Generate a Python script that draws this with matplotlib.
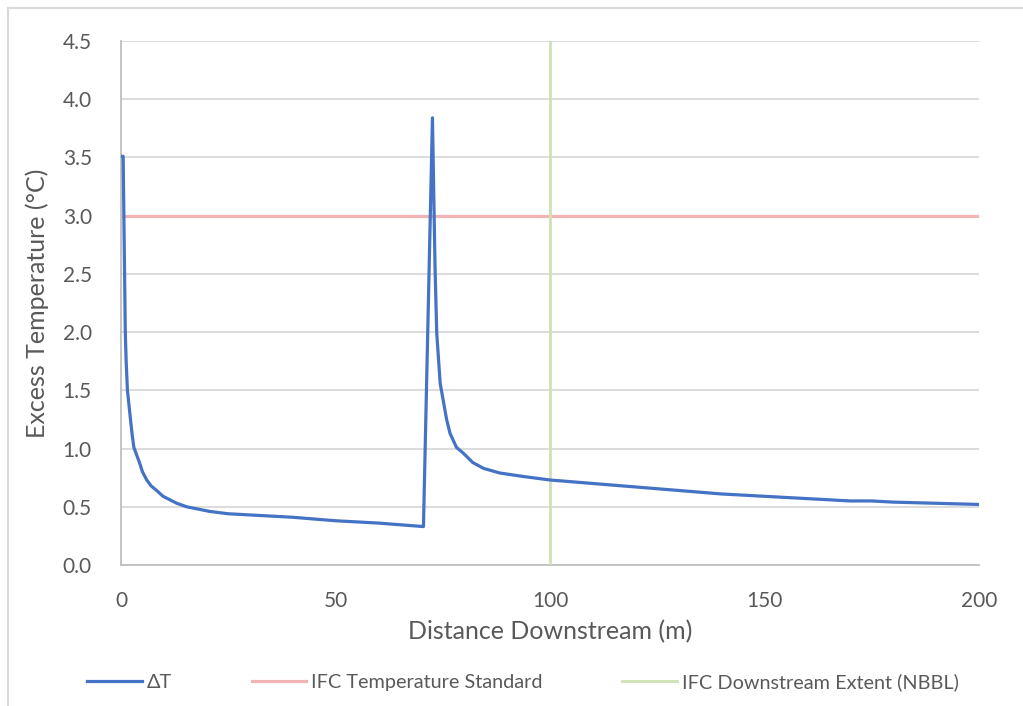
import matplotlib
matplotlib.use("Agg")
import matplotlib.pyplot as plt
from matplotlib.lines import Line2D

plt.rcParams['font.family'] = ['Lato', 'DejaVu Sans']

# data
dist = [0, 0.5, 1.0, 1.2, 1.5, 2.3, 2.6, 3.0, 3.6, 4.3, 5.0, 6.0, 7.0, 8.3, 9.8, 11.4, 13, 15.3,
        18, 20.7, 25, 30, 40, 50, 60, 70.5,
        72.6, 73.2, 73.6, 74.4, 75.9, 76.7, 78.2, 79.8, 82, 84.5, 88.3, 93.8, 100,
        110, 120, 130, 140, 150, 160, 170, 175, 180, 190, 200]
dT = [3.51, 3.51, 2.0, 1.75, 1.5, 1.22, 1.12, 1.01, 0.95, 0.88, 0.80, 0.73, 0.68, 0.64, 0.59, 0.56, 0.53, 0.50,
      0.48, 0.46, 0.44, 0.43, 0.41, 0.38, 0.36, 0.33,
      3.84, 2.56, 1.99, 1.56, 1.25, 1.13, 1.01, 0.96, 0.88, 0.83, 0.79, 0.76, 0.73,
      0.70, 0.67, 0.64, 0.61, 0.59, 0.57, 0.55, 0.55, 0.54, 0.53, 0.52]
std_x = [0, 200]
std_y = [3.0, 3.0]
ext_x = [100, 100]
ext_y = [0, 4.5]

labels = ["\u0394T", "IFC Temperature Standard", "IFC Downstream Extent (NBBL)"]
tick_color = "#595959"
grid_color = "#d9d9d9"

fig = plt.figure(figsize=(10.23, 7.06), dpi=100)
ax = fig.add_axes([121 / 1023, 141 / 706, 858 / 1023, 524 / 706])

ax.plot(dist, dT, color="#4472c4", lw=2.3, label=labels[0], zorder=4)
ax.plot(std_x, std_y, color="#f2b4b4", lw=2.3, label=labels[1], zorder=3)
ax.plot(ext_x, ext_y, color="#cfe2b4", lw=2.0, label=labels[2], zorder=3)

ax.set_xlim(0, 200)
ax.set_ylim(0, 4.5)
ax.set_xticks([0, 50, 100, 150, 200])
ax.set_yticks([i * 0.5 for i in range(10)])
ax.set_yticklabels([f"{i * 0.5:.1f}" for i in range(10)])
ax.tick_params(length=0, labelsize=15, colors=tick_color, pad=21)
ax.tick_params(axis="x", pad=19)
ax.grid(axis="y", color=grid_color, lw=1.3)
ax.set_axisbelow(True)
for s in ["top", "right"]:
    ax.spines[s].set_visible(False)
for s in ["left", "bottom"]:
    ax.spines[s].set_color("#bfbfbf")
    ax.spines[s].set_linewidth(1.3)

ax.set_xlabel("Distance Downstream (m)", fontsize=18, color=tick_color, labelpad=6)
ax.set_ylabel("Excess Temperature (\u00b0C)", fontsize=18, color=tick_color, labelpad=10)

leg = fig.legend(loc="center", bbox_to_anchor=(523 / 1023, 1 - 682 / 706), ncol=3, frameon=False,
                 fontsize=14.3, handlelength=2.75, handletextpad=0.25, columnspacing=4.0)
for t in leg.get_texts():
    t.set_color(tick_color)

# outer chart border (top and left edges visible)
fig.add_artist(Line2D([8 / 1023, 1], [1 - 8 / 706, 1 - 8 / 706], color=grid_color, lw=1.5))
fig.add_artist(Line2D([8 / 1023, 8 / 1023], [0, 1 - 8 / 706], color=grid_color, lw=1.5))

fig.savefig("out.png", dpi=100)
